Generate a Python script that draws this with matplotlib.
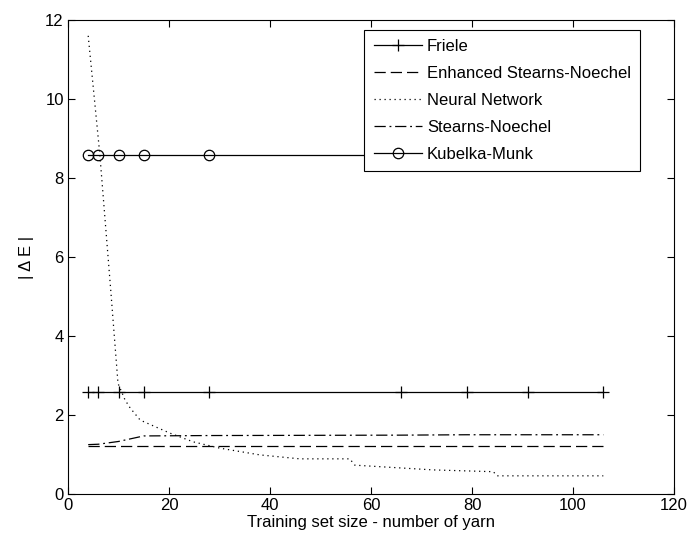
import matplotlib
matplotlib.use("Agg")
import matplotlib.pyplot as plt

plt.rcParams['font.family'] = ['Liberation Sans', 'DejaVu Sans']

# Data
x_common = [4, 6, 10, 15, 28, 66, 79, 91, 106]
friele = [2.58] * 9
enhanced_sn = [1.22] * 9
stearns_noechel = [1.25, 1.26, 1.33, 1.47, 1.48, 1.49, 1.50, 1.50, 1.50]
kubelka_munk = [8.58] * 9

nn_x = [4, 6.3, 8.5, 9.9, 11.3, 12.3, 14.3, 20.2, 24.8, 30.1, 38, 45.9, 55.8, 56.8, 72.3, 84.2, 85, 106]
nn_y = [11.6, 8.6, 5.1, 2.8, 2.38, 2.18, 1.87, 1.54, 1.32, 1.16, 0.99, 0.89, 0.89, 0.73, 0.61, 0.565, 0.46, 0.46]

xticks = [0, 20, 40, 60, 80, 100, 120]
yticks = [0, 2, 4, 6, 8, 10, 12]

fig = plt.figure(figsize=(6.88, 5.43), dpi=100)
ax = fig.add_axes([68/688, 1 - 494/543, (674-68)/688, (494-20)/543])

lw = 0.9
ax.plot(x_common, friele, color='black', lw=lw, marker='+', ms=9, mew=0.9, label='Friele')
ax.plot(x_common, enhanced_sn, color='black', lw=lw, dashes=(9, 4), label='Enhanced Stearns-Noechel')
ax.plot(nn_x, nn_y, color='black', lw=lw, dashes=(1, 3), label='Neural Network')
ax.plot(x_common, stearns_noechel, color='black', lw=lw, dashes=(9, 3, 1.5, 3), label='Stearns-Noechel')
ax.plot(x_common, kubelka_munk, color='black', lw=lw, marker='o', ms=7.5, mfc='none', mew=0.9, label='Kubelka-Munk')

ax.set_xlim(0, 120)
ax.set_ylim(0, 12)
ax.set_xticks(xticks)
ax.set_yticks(yticks)
ax.tick_params(direction='in', top=True, right=True, length=5, width=0.8, labelsize=12, pad=3)
for s in ax.spines.values():
    s.set_linewidth(0.8)

ax.set_xlabel('Training set size - number of yarn', fontsize=12, labelpad=1)
ax.set_ylabel('| Δ E |', fontsize=12, labelpad=8)

leg = ax.legend(loc='upper right', bbox_to_anchor=((640-68)/606, (494-30)/474),
                borderaxespad=0, fontsize=12, handlelength=2.9, handletextpad=0.3,
                labelspacing=0.72, borderpad=0.55, fancybox=False, framealpha=1,
                edgecolor='black')
leg.get_frame().set_linewidth(0.8)

fig.savefig('out.png', dpi=100)
